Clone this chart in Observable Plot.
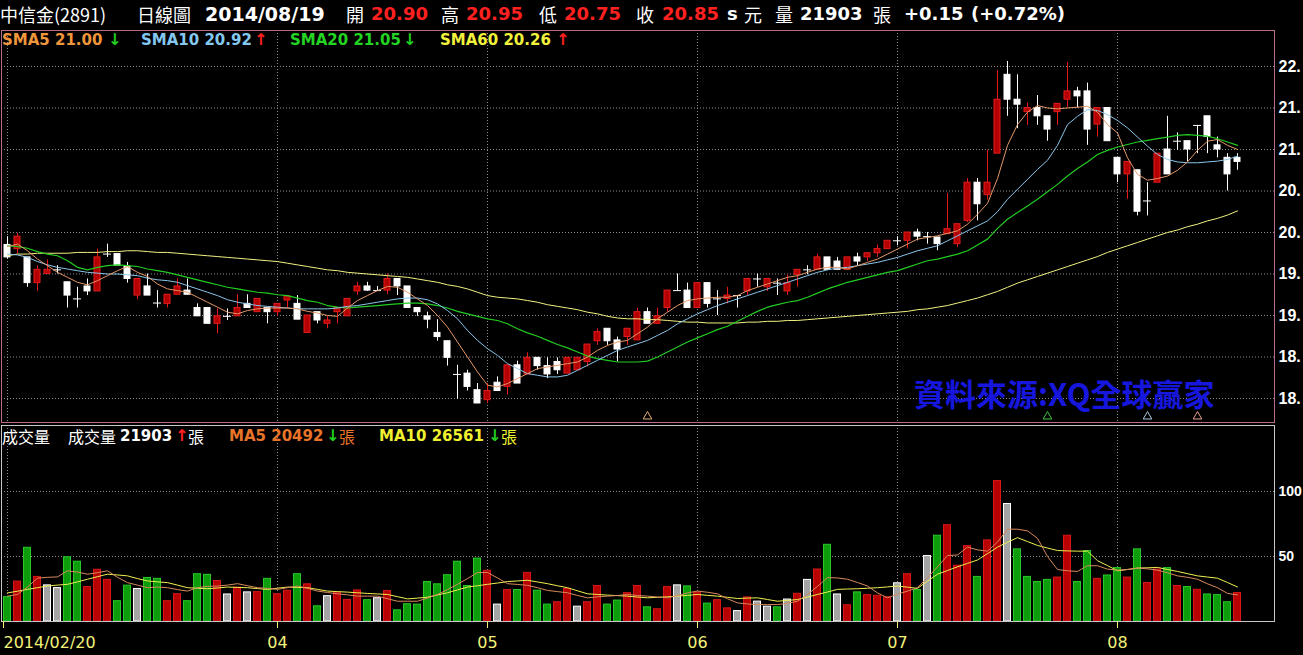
<!DOCTYPE html>
<html><head><meta charset="utf-8">
<script src="https://cdn.jsdelivr.net/npm/d3@7"></script>
<script src="https://cdn.jsdelivr.net/npm/@observablehq/plot@0.6"></script>
<style>
html,body{margin:0;padding:0;background:#000;}
body{width:1303px;height:655px;overflow:hidden;position:relative;font-family:"DejaVu Sans",sans-serif;}
.t{position:absolute;white-space:nowrap;line-height:1;}
svg{position:absolute;left:0;}
</style></head><body>
<script>
// ---------- DATA ----------
const openP  = [19.85,19.80,19.70,19.39,19.50,19.55,19.40,19.20,19.35,19.29,19.74,19.74,19.59,19.24,19.35,19.15,19.14,19.25,19.30,19.09,19.09,18.90,18.99,18.99,19.14,19.04,19.09,19.04,19.18,19.14,18.79,19.04,18.90,19.04,18.99,19.29,19.35,19.30,19.30,19.44,19.35,19.09,18.99,18.79,18.69,18.29,18.30,18.10,17.98,18.19,18.14,18.40,18.29,18.49,18.39,18.44,18.30,18.34,18.44,18.69,18.84,18.70,18.74,18.70,19.04,18.90,19.09,19.30,19.30,19.09,19.39,19.20,19.20,19.24,19.29,19.44,19.34,19.39,19.29,19.49,19.55,19.55,19.70,19.65,19.55,19.70,19.70,19.75,19.80,19.90,19.90,20.00,19.95,19.94,19.98,19.86,20.14,20.60,20.45,20.95,21.90,21.60,21.45,21.50,21.40,21.45,21.60,21.70,21.70,21.30,21.50,20.90,20.70,20.75,20.38,20.60,21.00,21.10,21.10,21.29,21.40,21.05,20.90,20.90];
const highP  = [19.95,19.99,19.70,19.60,19.67,19.60,19.40,19.34,19.44,19.80,19.86,19.74,19.64,19.44,19.50,19.30,19.25,19.44,19.44,19.14,19.09,19.08,19.08,19.25,19.25,19.20,19.09,19.14,19.24,19.24,19.00,19.04,18.99,19.09,19.20,19.40,19.40,19.35,19.50,19.44,19.35,19.09,19.04,18.95,18.69,18.40,18.34,18.18,18.18,18.26,18.40,18.45,18.55,18.49,18.49,18.49,18.49,18.49,18.65,18.84,18.84,18.74,18.84,19.09,19.09,19.09,19.30,19.50,19.39,19.39,19.39,19.30,19.34,19.24,19.44,19.50,19.44,19.44,19.49,19.55,19.60,19.74,19.70,19.70,19.70,19.75,19.75,19.85,19.90,19.95,20.00,20.04,20.00,19.94,20.47,20.10,20.65,20.65,20.99,21.95,22.06,21.90,21.56,21.65,21.40,21.55,22.05,21.75,21.80,21.50,21.50,20.90,20.85,20.75,20.60,20.95,21.40,21.20,21.10,21.29,21.40,21.15,20.95,20.95];
const lowP   = [19.68,19.74,19.34,19.29,19.50,19.50,19.09,19.09,19.24,19.29,19.70,19.60,19.39,19.19,19.24,19.09,19.09,19.25,19.25,18.99,18.90,18.78,18.94,18.99,19.09,19.04,18.90,18.99,19.09,18.95,18.79,18.90,18.84,18.90,18.99,19.24,19.29,19.29,19.25,19.24,19.09,18.99,18.84,18.69,18.39,17.99,18.09,17.94,17.94,18.09,18.04,18.18,18.29,18.34,18.24,18.29,18.30,18.34,18.38,18.64,18.64,18.44,18.64,18.70,18.90,18.90,19.04,19.30,19.09,19.09,19.09,19.00,19.14,19.09,19.24,19.34,19.29,19.24,19.24,19.34,19.49,19.55,19.55,19.55,19.55,19.60,19.65,19.70,19.80,19.84,19.80,19.90,19.86,19.78,19.98,19.82,20.12,20.14,20.39,20.95,21.40,21.25,21.29,21.29,21.10,21.29,21.50,21.50,21.05,21.15,21.10,20.60,20.40,20.20,20.20,20.60,20.70,20.99,20.85,20.95,20.95,20.90,20.50,20.75];
const closeP = [19.70,19.95,19.39,19.55,19.55,19.55,19.24,19.20,19.29,19.70,19.74,19.60,19.44,19.44,19.24,19.15,19.25,19.35,19.25,18.99,18.90,18.99,18.99,19.09,19.09,19.20,19.04,19.14,19.23,18.95,19.00,18.94,18.94,19.09,19.20,19.35,19.30,19.30,19.44,19.35,19.09,19.04,18.95,18.74,18.49,18.29,18.14,17.94,18.09,18.09,18.40,18.18,18.49,18.39,18.29,18.34,18.49,18.49,18.65,18.80,18.69,18.59,18.84,19.04,18.90,18.99,19.30,19.30,19.09,19.39,19.14,19.20,19.24,19.24,19.44,19.44,19.44,19.39,19.39,19.55,19.55,19.70,19.55,19.55,19.70,19.65,19.75,19.80,19.90,19.90,20.00,19.95,19.95,19.86,20.04,20.10,20.60,20.34,20.60,21.60,21.60,21.54,21.50,21.40,21.24,21.55,21.70,21.64,21.24,21.50,21.10,20.70,20.85,20.25,20.38,20.95,20.70,21.10,21.00,21.29,21.15,21.00,20.70,20.85];
const sma5  = [19.83,19.86,19.78,19.68,19.60,19.52,19.46,19.40,19.37,19.42,19.48,19.54,19.59,19.52,19.47,19.38,19.32,19.30,19.28,19.22,19.16,19.10,19.04,19.02,19.06,19.08,19.09,19.09,19.09,19.08,19.05,19.03,19.00,18.99,19.09,19.18,19.24,19.30,19.35,19.34,19.28,19.20,19.12,19.00,18.86,18.68,18.50,18.32,18.16,18.14,18.18,18.24,18.30,18.36,18.38,18.40,18.42,18.44,18.50,18.58,18.64,18.68,18.70,18.78,18.86,18.96,19.04,19.12,19.18,19.20,19.21,19.22,19.22,19.24,19.30,19.34,19.38,19.42,19.46,19.48,19.52,19.56,19.58,19.58,19.56,19.60,19.64,19.68,19.74,19.80,19.86,19.92,19.94,19.96,19.99,20.02,20.10,20.22,20.35,20.65,21.05,21.30,21.45,21.53,21.50,21.49,21.50,21.51,21.52,21.45,21.30,21.20,20.90,20.70,20.63,20.65,20.68,20.75,20.85,20.99,21.10,21.12,21.05,21.00];
const sma10 = [19.74,19.73,19.70,19.65,19.61,19.58,19.56,19.54,19.52,19.51,19.50,19.50,19.49,19.48,19.45,19.43,19.42,19.40,19.36,19.32,19.28,19.24,19.19,19.16,19.14,19.12,19.11,19.10,19.09,19.08,19.08,19.08,19.08,19.09,19.11,19.12,19.14,19.16,19.18,19.20,19.21,19.21,19.19,19.14,19.06,18.96,18.82,18.70,18.60,18.52,18.42,18.36,18.30,18.28,18.26,18.26,18.28,18.34,18.40,18.46,18.52,18.58,18.62,18.66,18.70,18.76,18.82,18.90,18.96,19.02,19.07,19.12,19.16,19.20,19.24,19.28,19.32,19.36,19.40,19.44,19.48,19.52,19.55,19.57,19.58,19.60,19.62,19.64,19.67,19.70,19.74,19.78,19.81,19.84,19.90,19.96,20.02,20.08,20.14,20.25,20.40,20.52,20.64,20.76,20.87,21.05,21.30,21.40,21.48,21.47,21.42,21.35,21.26,21.15,21.04,20.94,20.88,20.85,20.84,20.84,20.85,20.86,20.88,20.92];
const sma20 = [19.84,19.83,19.81,19.77,19.74,19.72,19.66,19.58,19.55,19.58,19.60,19.61,19.60,19.59,19.56,19.54,19.52,19.49,19.46,19.43,19.40,19.37,19.34,19.32,19.30,19.28,19.27,19.25,19.24,19.21,19.18,19.16,19.12,19.10,19.09,19.10,19.11,19.12,19.13,19.14,19.15,19.15,19.14,19.12,19.09,19.05,19.02,18.99,18.96,18.94,18.90,18.84,18.79,18.75,18.70,18.65,18.61,18.56,18.51,18.48,18.46,18.44,18.44,18.44,18.45,18.50,18.56,18.62,18.68,18.73,18.78,18.83,18.87,18.93,18.99,19.05,19.10,19.13,19.16,19.18,19.22,19.27,19.32,19.36,19.40,19.43,19.46,19.49,19.52,19.54,19.58,19.62,19.66,19.68,19.71,19.74,19.78,19.85,19.92,20.05,20.16,20.24,20.32,20.40,20.49,20.58,20.68,20.77,20.85,20.94,20.99,21.03,21.06,21.09,21.11,21.13,21.15,21.17,21.18,21.17,21.16,21.13,21.09,21.05];
const sma60 = [19.72,19.74,19.74,19.75,19.75,19.75,19.75,19.76,19.76,19.76,19.77,19.77,19.78,19.78,19.77,19.76,19.76,19.75,19.74,19.73,19.72,19.71,19.70,19.69,19.68,19.67,19.66,19.65,19.63,19.61,19.59,19.57,19.55,19.54,19.52,19.51,19.50,19.49,19.48,19.47,19.46,19.44,19.42,19.40,19.37,19.35,19.32,19.28,19.24,19.22,19.21,19.20,19.18,19.16,19.13,19.11,19.09,19.07,19.04,19.02,18.99,18.97,18.96,18.96,18.95,18.95,18.94,18.93,18.92,18.92,18.91,18.91,18.91,18.91,18.92,18.92,18.93,18.93,18.94,18.94,18.95,18.96,18.97,18.98,18.99,19.00,19.01,19.02,19.03,19.04,19.05,19.07,19.08,19.10,19.12,19.15,19.18,19.21,19.25,19.29,19.34,19.39,19.43,19.47,19.51,19.55,19.59,19.63,19.67,19.71,19.76,19.80,19.84,19.88,19.92,19.96,20.00,20.03,20.07,20.10,20.14,20.17,20.21,20.26];
const volume = [18700,30700,56700,34300,27800,25700,49400,46000,26500,39800,32000,15600,27600,25000,33500,32800,15600,21000,15600,36400,35900,31200,20800,26000,22400,22600,32800,21000,23700,36400,28600,11700,19500,22100,16600,23900,16400,17900,23400,8600,13300,13000,30400,28600,35600,46000,27300,48400,39000,13000,24200,24200,37400,23700,13000,14800,25000,11400,14800,27300,13000,16100,21800,27300,10900,9400,26500,27800,27000,22100,13800,16400,10100,8000,18500,15300,11400,10900,16900,21300,32000,40000,59000,20800,12500,22400,20300,19800,18700,29400,36400,24200,50400,66000,74100,42900,58000,34300,62400,108000,90400,55500,34300,30400,32000,33800,66000,30400,54200,32800,35400,41100,33800,55500,29600,40000,41100,27300,26500,24400,20800,20300,14800,21903];
const volMA5  = [19500,20800,26500,33300,34000,34300,39000,38000,36400,37500,39000,34000,29900,28000,26000,26500,26000,24500,23400,26000,27000,27300,28000,29100,27500,26000,25500,24700,26000,27300,25500,23400,22300,21300,20500,19500,19500,19500,17500,15600,15600,15600,18000,20800,24500,28600,33000,37700,37700,33500,29100,28500,27800,26000,23900,23000,22100,20000,18200,19000,19500,20000,20800,20000,19500,18800,18200,20000,22000,23400,22500,21300,17500,14300,13500,13000,13000,13000,14000,15600,20800,27000,33800,33500,32500,30000,27300,22000,18200,21000,23400,26000,33800,42000,50700,51200,57200,55100,54100,61100,71000,71000,69700,64000,50000,40000,39000,38500,42900,42900,40300,39500,40000,41100,40500,39500,37500,35100,34000,32500,29000,26000,21600,20492];
const volMA10 = [22000,23300,24700,26000,27300,28000,28600,30500,32500,34500,36400,35800,35100,33000,31200,30500,29900,28000,26000,25600,25200,25800,26500,26200,26000,25300,24700,25600,26500,26200,26000,24700,23400,23000,22600,22100,21600,21200,20800,19100,17400,18000,18700,20400,22100,24300,26500,27500,28600,29600,30700,31200,31700,30400,29100,27500,26000,23600,21300,20800,20300,19900,19500,18800,18200,18600,19000,19500,20100,20800,20100,19500,18600,17700,18000,18200,16900,15600,16200,16900,18800,20800,22700,24700,25000,25200,25600,26000,26600,27300,26400,25500,31000,36400,39200,42100,44700,47300,52200,57200,61000,64500,61500,58500,56500,54600,54300,54100,54100,46800,43000,39000,40000,41100,41300,41600,40000,38500,36800,35100,34200,33300,30000,26561];
const firstDir = -1; // first volume bar is green (close below previous close)
const tickIdx = [0, 27, 48, 69, 89, 111];
const tickLabels = ["2014/02/20", "04", "05", "06", "07", "08"];
const priceTicks = [18, 18.5, 19, 19.5, 20, 20.5, 21, 21.5, 22];
const priceTickText = ["18.", "18.", "19.", "19.", "20.", "20.", "21.", "21.", "22."]; // as visible (truncated at the window edge)
const volTicks = [50000, 100000];
const volTickText = ["50", "100"]; // as visible (truncated at the window edge)
const signalIdx = [64, 104, 114, 119];
const signalColors = ["#e8b07a", "#3cc83c", "#a8c8e0", "#e8a090"];

// ---------- build ----------
const N = openP.length;
const bars = d3.range(N).map(i => ({i, o: openP[i], h: highP[i], l: lowP[i], c: closeP[i],
  v: volume[i], m5: volMA5[i], m10: volMA10[i],
  s5: sma5[i], s10: sma10[i], s20: sma20[i], s60: sma60[i]}));
bars.forEach((d, i) => {
  if (i === 0) d.dir = firstDir;
  else d.dir = Math.sign(Math.round(d.c * 100) - Math.round(bars[i - 1].c * 100));
});
const up = d => d.c > d.o;
const flat = d => Math.round(d.c * 100) === Math.round(d.o * 100);
const labelMap = new Map(tickIdx.map((d, k) => [d, tickLabels[k]]));
const pMap = new Map(priceTicks.map((d, k) => [d, priceTickText[k]]));
const vMap = new Map(volTicks.map((d, k) => [d, volTickText[k]]));
const xDom = [-0.6, 126.7];
const grid = {stroke: "#8c8c8c", strokeOpacity: 1, strokeDasharray: "1,2"};
const axisFont = "Liberation Sans";

const price = Plot.plot({
  width: 1303, height: 395,
  marginLeft: 1, marginRight: 29, marginTop: 1, marginBottom: 2,
  x: {domain: xDom, axis: null},
  y: {domain: [17.7108, 22.4337], axis: null},
  color: {type: "identity"},
  style: {background: "transparent", fontFamily: "DejaVu Sans", overflow: "hidden"},
  marks: [
    Plot.gridY(priceTicks, grid),
    Plot.gridX(tickIdx, grid),
    Plot.frame({stroke: "#b86c8c"}),
    Plot.axisY(priceTicks, {anchor: "right", label: null, tickSize: 0, tickPadding: 4, tickFormat: d => pMap.get(d),
      color: "#ffffff", fontSize: 16, fontWeight: "bold", fontFamily: axisFont}),
    Plot.ruleX(bars, {x: "i", y1: "l", y2: "h", stroke: d => up(d) ? "#e81818" : "#ffffff"}),
    Plot.rect(bars.filter(d => !flat(d)), {x1: d => d.i - 0.3, x2: d => d.i + 0.3,
      y1: d => Math.min(d.o, d.c), y2: d => Math.max(d.o, d.c),
      fill: d => up(d) ? "#b40000" : "#ffffff", stroke: d => up(d) ? "#e41c1c" : "#ffffff"}),
    Plot.ruleY(bars.filter(flat), {y: "c", x1: d => d.i - 0.4, x2: d => d.i + 0.4, stroke: "#ffffff"}),
    Plot.line(bars, {x: "i", y: "s60", stroke: "#f2f282", strokeWidth: 1}),
    Plot.line(bars, {x: "i", y: "s20", stroke: "#22cc22", strokeWidth: 1.2}),
    Plot.line(bars, {x: "i", y: "s10", stroke: "#8cc6ec", strokeWidth: 1}),
    Plot.line(bars, {x: "i", y: "s5", stroke: "#e49868", strokeWidth: 1}),
    Plot.dot(signalIdx, {x: d => d, frameAnchor: "bottom", dy: -6, symbol: "triangle", r: 3.2,
      stroke: (d, k) => signalColors[k], fill: "none", strokeWidth: 1})
  ]
});
price.style.top = "29px";
document.body.appendChild(price);

const vol = Plot.plot({
  width: 1303, height: 233,
  marginLeft: 1, marginRight: 29, marginTop: 3, marginBottom: 34,
  x: {domain: xDom, axis: null},
  y: {domain: [0, 150769], axis: null},
  color: {type: "identity"},
  style: {background: "transparent", fontFamily: "DejaVu Sans", overflow: "hidden"},
  marks: [
    Plot.gridY(volTicks, grid),
    Plot.gridX(tickIdx, grid),
    Plot.axisY(volTicks, {anchor: "right", label: null, tickSize: 0, tickPadding: 4, tickFormat: d => vMap.get(d),
      color: "#ffffff", fontSize: 14, fontWeight: "bold", fontFamily: axisFont}),
    Plot.rectY(bars, {x1: d => d.i - 0.35, x2: d => d.i + 0.35, y: "v",
      fill: d => d.dir > 0 ? "#b80000" : d.dir < 0 ? "#0c9c0c" : "#a4a4a4",
      stroke: d => d.dir > 0 ? "#d81818" : d.dir < 0 ? "#28c828" : "#ffffff"}),
    Plot.line(bars, {x: "i", y: "m10", stroke: "#f0f050", strokeWidth: 1}),
    Plot.line(bars, {x: "i", y: "m5", stroke: "#d88a5c", strokeWidth: 1}),
    Plot.frame({stroke: "#c8c8c8"}),
    Plot.axisX([tickIdx[0]], {anchor: "bottom", label: null, tickSize: 7, tickPadding: 8, tickFormat: d => labelMap.get(d),
      color: "#f2f27a", fontSize: 16, textAnchor: "start", dx: -4}),
    Plot.axisX(tickIdx.slice(1), {anchor: "bottom", label: null, tickSize: 7, tickPadding: 8, tickFormat: d => labelMap.get(d),
      color: "#f2f27a", fontSize: 16})
  ]
});
vol.style.top = "422px";
document.body.appendChild(vol);

// ---------- texts ----------
const CJK = "'Noto Sans CJK TC','DejaVu Sans',sans-serif";
const SANS = "'DejaVu Sans',sans-serif";
function T(x, yc, text, color, size, bold, cjk) {
  const d = document.createElement("div");
  d.className = "t";
  d.textContent = text;
  Object.assign(d.style, {left: x + "px", top: yc + "px", color, fontSize: size + "px",
    fontWeight: bold ? "bold" : "normal", fontFamily: cjk ? CJK : SANS, transform: "translateY(-50%)"});
  document.body.appendChild(d);
}
const W = "#ffffff", R = "#ff2020", G = "#20d020";
// header
T(0, 14, "中信金(2891)", W, 18, false, true);
T(137, 14, "日線圖", W, 18, false, true);
T(205, 14, "2014/08/19", W, 19, true);
T(346, 14, "開", W, 18, false, true);
T(371, 14, "20.90", R, 18, true);
T(441, 14, "高", W, 18, false, true);
T(466, 14, "20.95", R, 18, true);
T(539, 14, "低", W, 18, false, true);
T(564, 14, "20.75", R, 18, true);
T(636, 14, "收", W, 18, false, true);
T(662, 14, "20.85", R, 18, true);
T(727, 14, "s", W, 18, true);
T(744, 14, "元", W, 18, false, true);
T(775, 14, "量", W, 18, false, true);
T(800, 14, "21903", W, 18, true);
T(873, 14, "張", W, 18, false, true);
T(904, 14, "+0.15", W, 18, true);
T(971, 14, "(+0.72%)", W, 18, true);
// price legend
T(2, 40, "SMA5 21.00", "#f0963c", 15, true);
T(108, 40, "↓", G, 16, true);
T(141, 40, "SMA10 20.92", "#84c8f0", 15, true);
T(254, 40, "↑", R, 16, true);
T(290, 40, "SMA20 21.05", "#24d424", 15, true);
T(403, 40, "↓", G, 16, true);
T(440, 40, "SMA60 20.26", "#f2f23c", 15, true);
T(556, 40, "↑", R, 16, true);
// volume legend
T(2, 436, "成交量", W, 16, false, true);
T(68, 436, "成交量", W, 16, false, true);
T(120, 436, "21903", W, 15, true);
T(175, 436, "↑", R, 16, true);
T(188, 436, "張", W, 16, false, true);
T(229, 436, "MA5 20492", "#e8742a", 15, true);
T(326, 436, "↓", G, 16, true);
T(339, 436, "張", "#e8742a", 16, false, true);
T(379, 436, "MA10 26561", "#f0f030", 15, true);
T(488, 436, "↓", G, 16, true);
T(501, 436, "張", "#f0f030", 16, false, true);
// watermark
T(914, 392, "資料來源:XQ全球贏家", "#1616dc", 31, true, true);
</script>
</body></html>
